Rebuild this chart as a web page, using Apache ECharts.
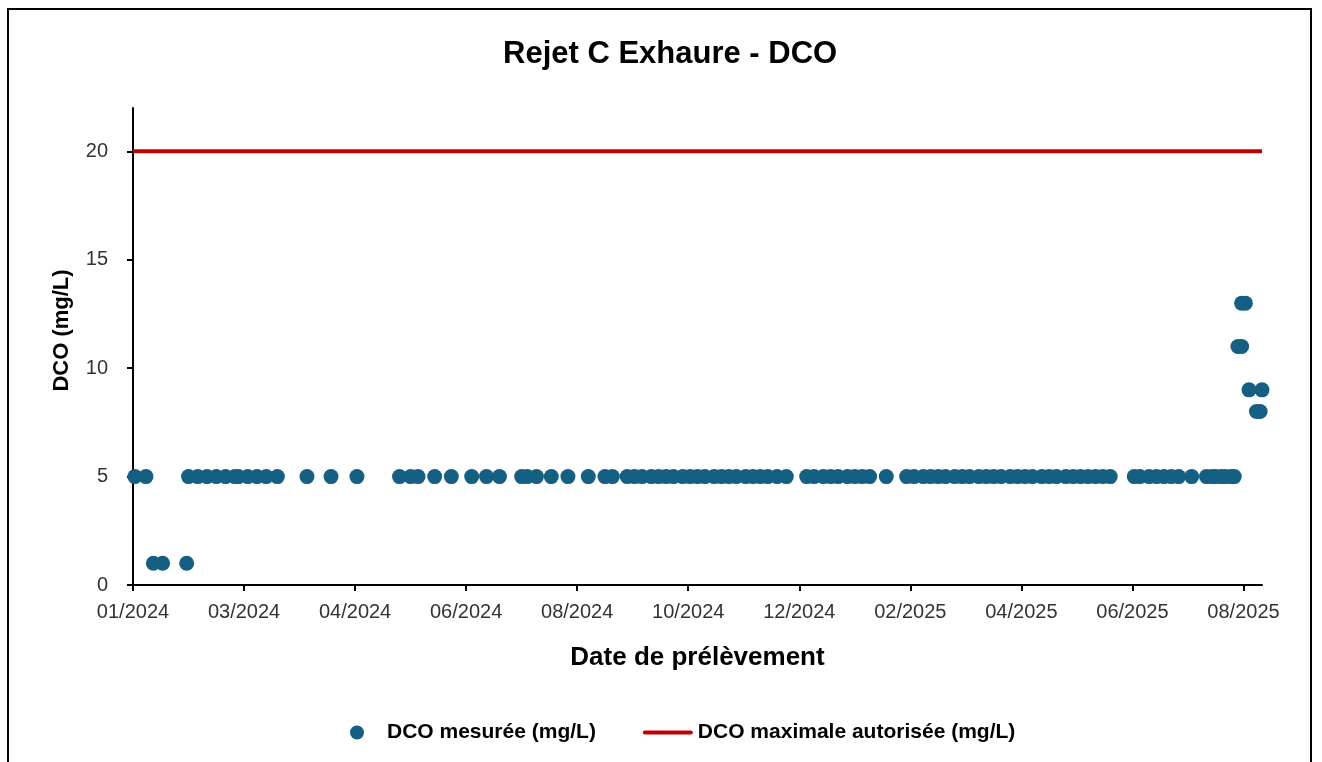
<!DOCTYPE html>
<html>
<head>
<meta charset="utf-8">
<script src="https://cdn.jsdelivr.net/npm/echarts@6/dist/echarts.min.js"></script>
<style>
html,body{margin:0;padding:0;background:#fff;}
#chart{width:1322px;height:762px;}
</style>
</head>
<body>
<div id="chart"></div>
<script>
// ---- Data ----
const sampleDates = [
  '2024-01-02','2024-01-08','2024-01-12','2024-01-17','2024-01-30','2024-01-31',
  '2024-02-05','2024-02-10','2024-02-15','2024-02-20','2024-02-25','2024-02-27',
  '2024-03-03','2024-03-08','2024-03-13','2024-03-19','2024-04-04','2024-04-17',
  '2024-05-01','2024-05-24','2024-05-30','2024-06-03','2024-06-12','2024-06-21',
  '2024-07-02','2024-07-10','2024-07-17','2024-07-29','2024-08-01','2024-08-06',
  '2024-08-14','2024-08-23','2024-09-03','2024-09-12','2024-09-16',
  '2024-09-24','2024-09-28','2024-10-02','2024-10-07','2024-10-11','2024-10-15',
  '2024-10-19','2024-10-24','2024-10-28','2024-11-01','2024-11-05','2024-11-10',
  '2024-11-14','2024-11-18','2024-11-22','2024-11-27','2024-12-01','2024-12-05',
  '2024-12-09','2024-12-14','2024-12-19',
  '2024-12-30','2025-01-03','2025-01-08','2025-01-12','2025-01-16','2025-01-21',
  '2025-01-25','2025-01-29','2025-02-02','2025-02-11',
  '2025-02-22','2025-02-26','2025-03-03','2025-03-07','2025-03-11','2025-03-15',
  '2025-03-20','2025-03-24','2025-03-28','2025-04-02','2025-04-06','2025-04-10',
  '2025-04-14','2025-04-19','2025-04-23','2025-04-27','2025-05-01','2025-05-06',
  '2025-05-10','2025-05-14','2025-05-19','2025-05-23','2025-05-27','2025-05-31',
  '2025-06-04','2025-06-08','2025-06-12',
  '2025-06-25','2025-06-28','2025-07-03','2025-07-07','2025-07-11','2025-07-15',
  '2025-07-19','2025-07-26',
  '2025-08-03','2025-08-06','2025-08-08','2025-08-11','2025-08-13','2025-08-16',
  '2025-08-18','2025-08-20','2025-08-22','2025-08-22','2025-08-24',
  '2025-08-26','2025-08-30','2025-09-01','2025-09-02'
];
const dcoValues = [
  5,5,1,1,1,5,
  5,5,5,5,5,5,
  5,5,5,5,5,5,
  5,5,5,5,5,5,
  5,5,5,5,5,5,
  5,5,5,5,5,
  5,5,5,5,5,5,
  5,5,5,5,5,5,
  5,5,5,5,5,5,
  5,5,5,
  5,5,5,5,5,5,
  5,5,5,5,
  5,5,5,5,5,5,
  5,5,5,5,5,5,
  5,5,5,5,5,5,
  5,5,5,5,5,5,
  5,5,5,
  5,5,5,5,5,5,
  5,5,
  5,5,5,5,5,5,
  5,11,11,13,13,
  9,8,8,9
];
const limitValue = 20;
const axisStartDate = '2024-01-01';
const axisEndDate = '2025-09-02';
const xTickDays = [0,60,120,180,240,300,360,420,480,540,600];
const yTickValues = [0,5,10,15,20];

// ---- Helpers ----
const DAY = 86400000;
const t0 = Date.parse(axisStartDate + 'T00:00:00Z');
function toDay(s){ return Math.round((Date.parse(s + 'T00:00:00Z') - t0) / DAY); }
function dayLabel(v){
  const d = new Date(t0 + v * DAY);
  const m = d.getUTCMonth() + 1;
  return (m < 10 ? '0' : '') + m + '/' + d.getUTCFullYear();
}
const xMax = toDay(axisEndDate);
const measured = sampleDates.map((s, i) => [toDay(s), dcoValues[i]]);
const limitLine = [[0, limitValue], [xMax, limitValue]];

const FONT = "'Liberation Sans', Arial, sans-serif";
const chart = echarts.init(document.getElementById('chart'));
chart.setOption({
  backgroundColor: '#ffffff',
  animation: false,
  title: {
    text: 'Rejet C Exhaure - DCO',
    left: 503,
    top: 39,
    padding: 0,
    textStyle: { fontFamily: FONT, fontSize: 31, fontWeight: 'bold', color: '#000' }
  },
  graphic: [{
    type: 'rect', silent: true,
    shape: { x: 8, y: 9, width: 1303, height: 800 },
    style: { fill: 'none', stroke: '#000', lineWidth: 2 }
  }],
  legend: {
    left: 345, top: 717,
    itemWidth: 50, itemHeight: 14, itemGap: 47,
    textStyle: { fontFamily: FONT, fontSize: 21, fontWeight: 'bold', color: '#000' },
    data: [
      { name: 'DCO mesurée (mg/L)', icon: 'circle' },
      { name: 'DCO maximale autorisée (mg/L)', icon: 'path://M2,0 L48,0 A2,2 0 0 1 48,4 L2,4 A2,2 0 0 1 2,0 Z' }
    ]
  },
  grid: { left: 133, right: 60, top: 108, bottom: 177, containLabel: false },
  xAxis: {
    type: 'value',
    min: 0, max: xMax,
    name: 'Date de prélèvement',
    nameLocation: 'middle', nameGap: 60,
    nameTextStyle: { fontFamily: FONT, fontSize: 26, fontWeight: 'bold', color: '#000' },
    splitLine: { show: false },
    axisLine: { lineStyle: { color: '#000', width: 2 } },
    axisTick: { show: true, customValues: xTickDays, length: 6, lineStyle: { color: '#000', width: 2 } },
    axisLabel: {
      customValues: xTickDays, margin: 17,
      fontFamily: FONT, fontSize: 20, color: '#333',
      formatter: dayLabel
    }
  },
  yAxis: {
    type: 'value',
    min: 0, max: 22,
    name: 'DCO (mg/L)',
    nameLocation: 'middle', nameGap: 60,
    nameTextStyle: { fontFamily: FONT, fontSize: 22, fontWeight: 'bold', color: '#000', padding: [0, 0, 0, 32] },
    splitLine: { show: false },
    axisLine: { show: true, lineStyle: { color: '#000', width: 2 } },
    axisTick: { show: true, customValues: yTickValues, length: 6, lineStyle: { color: '#000', width: 2 } },
    axisLabel: {
      customValues: yTickValues, margin: 25,
      fontFamily: FONT, fontSize: 20, color: '#333'
    }
  },
  series: [
    {
      name: 'DCO mesurée (mg/L)',
      type: 'scatter',
      data: measured,
      symbol: 'circle',
      symbolSize: 15,
      clip: false,
      itemStyle: { color: '#156082', opacity: 1 },
      z: 3
    },
    {
      name: 'DCO maximale autorisée (mg/L)',
      type: 'line',
      data: limitLine,
      symbol: 'none',
      lineStyle: { color: '#C00000', width: 4 },
      itemStyle: { color: '#C00000' },
      z: 2
    }
  ]
});
</script>
</body>
</html>
